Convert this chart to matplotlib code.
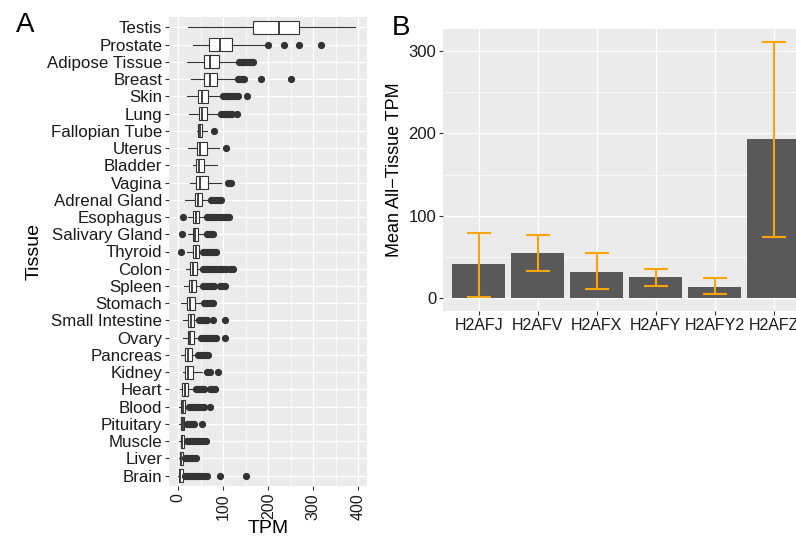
import matplotlib
matplotlib.use("Agg")
import matplotlib.pyplot as plt
from matplotlib.ticker import MultipleLocator

plt.rcParams['font.family'] = ['Liberation Sans', 'DejaVu Sans']

# Panel A: per-tissue boxplot summary (TPM), top to bottom
tissues = ["Testis", "Prostate", "Adipose Tissue", "Breast", "Skin", "Lung",
           "Fallopian Tube", "Uterus", "Bladder", "Vagina", "Adrenal Gland",
           "Esophagus", "Salivary Gland", "Thyroid", "Colon", "Spleen",
           "Stomach", "Small Intestine", "Ovary", "Pancreas", "Kidney",
           "Heart", "Blood", "Pituitary", "Muscle", "Liver", "Brain"]
whis_lo = [22, 33, 20, 28, 19, 24, 41, 21, 32, 27, 16, 22, 22, 20, 17, 13,
           7, 11, 11, 7, 11, 5, 2, 3, 3, 2, 0]
q1 = [167, 68, 57, 57, 44, 46, 44, 41, 39, 39, 37, 33, 32, 32, 27, 24,
      20, 22, 21, 16, 15, 9, 7, 7, 6, 4, 3]
med = [224, 94, 70, 70, 53, 54, 48, 48, 46, 48, 43, 39, 37, 39, 33, 30,
       26, 28, 27, 22, 23, 16, 10, 10, 9, 7, 5]
q3 = [268, 120, 90, 87, 67, 64, 53, 64, 58, 66, 52, 47, 45, 46, 42, 39,
      37, 35, 35, 30, 32, 22, 15, 14, 14, 11, 11]
whis_hi = [393, 196, 133, 130, 96, 93, 64, 91, 87, 96, 69, 61, 59, 54, 52, 52,
           52, 44, 48, 41, 52, 37, 22, 18, 18, 14, 14]
outliers = [
    [],
    [200, 236, 268, 317],
    [136, 139, 141, 144, 147, 150, 153, 157, 160, 164, 167],
    [132, 136, 139, 143, 147, 183, 250],
    [100, 103, 106, 109, 112, 116, 120, 124, 128, 133, 153],
    [96, 99, 102, 105, 108, 112, 116, 119, 130],
    [80],
    [107],
    [],
    [111, 114, 117],
    [74, 78, 82, 86, 90, 95],
    [10, 64, 68, 72, 76, 80, 85, 90, 95, 100, 105, 109, 113],
    [8, 63, 67, 71, 74, 78],
    [7, 56, 60, 64, 68, 72, 76, 80, 85],
    [56, 60, 64, 68, 72, 76, 80, 85, 90, 95, 100, 106, 114, 122],
    [56, 60, 64, 68, 72, 76, 80, 92, 97, 104],
    [57, 61, 65, 69, 73, 78],
    [47, 50, 53, 57, 61, 65, 78, 104],
    [51, 55, 59, 63, 67, 71, 75, 80, 85, 105],
    [44, 48, 52, 57, 62, 67],
    [65, 70, 89],
    [39, 42, 46, 50, 54, 58, 70, 75, 81],
    [24, 28, 32, 36, 40, 44, 48, 52, 58, 70],
    [20, 24, 28, 32, 36, 52],
    [19, 23, 27, 31, 35, 39, 43, 47, 51, 56, 61],
    [15, 19, 23, 27, 31, 35, 40],
    [15, 19, 23, 27, 31, 35, 39, 43, 47, 52, 57, 63, 93, 150],
]

# Panel B: mean all-tissue TPM per gene with error range
genes = ["H2AFJ", "H2AFV", "H2AFX", "H2AFY", "H2AFY2", "H2AFZ"]
mean_tpm = [40.7, 54, 32, 24.8, 13.8, 193]
err_low = [1.6, 32.5, 10.6, 14.2, 4.5, 74]
err_high = [79.3, 76.8, 54, 35, 24, 311.4]

BG = "#EBEBEB"
DARK = "#333333"
TXT = "#1A1A1A"

fig = plt.figure(figsize=(7.96, 5.38), dpi=100)


def gg_style(ax):
    ax.set_facecolor(BG)
    for s in ax.spines.values():
        s.set_visible(False)
    ax.set_axisbelow(True)
    ax.grid(which="major", color="white", linewidth=1.0)
    ax.grid(which="minor", color="white", linewidth=0.5)
    ax.tick_params(which="major", length=3, width=0.8, color=DARK,
                   labelsize=11.5, labelcolor=TXT, pad=2)
    ax.tick_params(which="minor", length=0)


# ---- Panel A
axA = fig.add_axes([169.3 / 796, 1 - 486 / 538, (366.5 - 169.3) / 796, (486 - 17) / 538])
gg_style(axA)
n = len(tissues)
pos = list(range(n))
stats = []
for i in range(n):
    stats.append(dict(med=med[i], q1=q1[i], q3=q3[i], whislo=whis_lo[i],
                      whishi=whis_hi[i], fliers=outliers[i], label=tissues[i]))
axA.bxp(stats, positions=pos, vert=False, widths=0.75, showcaps=False,
        patch_artist=True,
        boxprops=dict(facecolor="white", edgecolor=DARK, linewidth=0.8),
        medianprops=dict(color=DARK, linewidth=1.3),
        whiskerprops=dict(color=DARK, linewidth=0.8),
        flierprops=dict(marker="o", markerfacecolor=DARK, markeredgecolor=DARK,
                        markersize=4.2, linestyle="none"))
axA.set_ylim(n - 0.4, -0.6)
axA.set_xlim(-19.6, 418)
axA.set_yticks(pos)
axA.set_yticklabels(tissues, fontsize=12.2)
axA.xaxis.set_major_locator(MultipleLocator(100))
axA.xaxis.set_minor_locator(MultipleLocator(50))
axA.tick_params(axis="y", which="minor", left=False)
axA.yaxis.grid(False, which="minor")
for lab in axA.get_xticklabels():
    lab.set_rotation(90)
axA.set_xlabel("TPM", fontsize=14, labelpad=0)
axA.set_ylabel("Tissue", fontsize=14, labelpad=3)

# ---- Panel B
axB = fig.add_axes([443.3 / 796, 1 - 310.7 / 538, (809 - 443.3) / 796, (310.7 - 29) / 538])
gg_style(axB)
x = list(range(len(genes)))
axB.bar(x, mean_tpm, width=0.9, color="#595959", zorder=2)
yerr = [[m - lo for m, lo in zip(mean_tpm, err_low)],
        [hi - m for m, hi in zip(mean_tpm, err_high)]]
axB.errorbar(x, mean_tpm, yerr=yerr, fmt="none", ecolor="#FFA500",
             elinewidth=1.5, capsize=8.3, capthick=1.5, zorder=3)
axB.set_xlim(-0.6, len(genes) - 0.4)
axB.set_ylim(-15.6, 327)
axB.set_xticks(x)
axB.set_xticklabels(genes)
axB.tick_params(axis="y", labelsize=12)
axB.yaxis.set_major_locator(MultipleLocator(100))
axB.yaxis.set_minor_locator(MultipleLocator(50))
axB.xaxis.grid(False, which="minor")
axB.set_ylabel("Mean All\u2212Tissue TPM", fontsize=13, labelpad=4)

fig.text(25 / 796, 1 - 25 / 538, "A", fontsize=20, ha="center", va="center")
fig.text(401 / 796, 1 - 28 / 538, "B", fontsize=20, ha="center", va="center")

fig.savefig("out.png", dpi=100)
